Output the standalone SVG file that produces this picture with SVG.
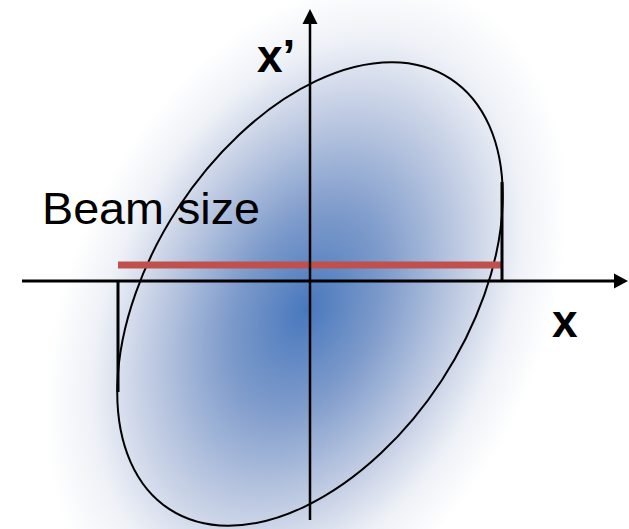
<svg xmlns="http://www.w3.org/2000/svg" width="629" height="529" viewBox="0 0 629 529">
<style>
.ln{stroke:#000;fill:none}
.lbl{font-family:"Liberation Sans",Arial,sans-serif;font-weight:bold;font-size:46px;fill:#000}
.txt{font-family:"Liberation Sans",Arial,sans-serif;font-size:45px;fill:#000}
</style>
<defs>
<radialGradient id="beam" gradientUnits="userSpaceOnUse" cx="0" cy="0" r="1" gradientTransform="translate(306 310) rotate(-64) scale(350 235)">
<stop offset="0" stop-color="#4878bd"/>
<stop offset="0.3" stop-color="#7e9bcb"/>
<stop offset="0.6" stop-color="#c1cce3"/>
<stop offset="0.82" stop-color="#eef1f7"/>
<stop offset="1" stop-color="#ffffff"/>
</radialGradient>
</defs>
<rect x="0" y="0" width="629" height="529" fill="url(#beam)"/>
<g id="ellipse">
<ellipse class="ln" cx="310" cy="294" rx="257" ry="157.5" transform="rotate(-56.83 310 294)" stroke-width="2"/>
</g>
<g id="beam-size">
<line x1="118" y1="265" x2="502" y2="265" stroke="#c0504d" stroke-width="7"/>
<text class="txt" x="42" y="224" textLength="218" lengthAdjust="spacingAndGlyphs">Beam size</text>
</g>
<g id="connectors">
<line class="ln" x1="118" y1="281" x2="118" y2="392" stroke-width="3"/>
<line class="ln" x1="502" y1="182" x2="502" y2="281" stroke-width="3"/>
<line class="ln" x1="22" y1="281" x2="615" y2="281" stroke-width="3"/>
<polygon points="628,281 614,273.5 614,288.5" fill="#000"/>
<line class="ln" x1="310" y1="23" x2="310" y2="520" stroke-width="2.5"/>
<polygon points="310,9 302.5,24 317.5,24" fill="#000"/>
</g>
<g id="axis-labels">
<text class="lbl" x="257" y="72">x’</text>
<text class="lbl" x="552" y="337">x</text>
</g>
</svg>
